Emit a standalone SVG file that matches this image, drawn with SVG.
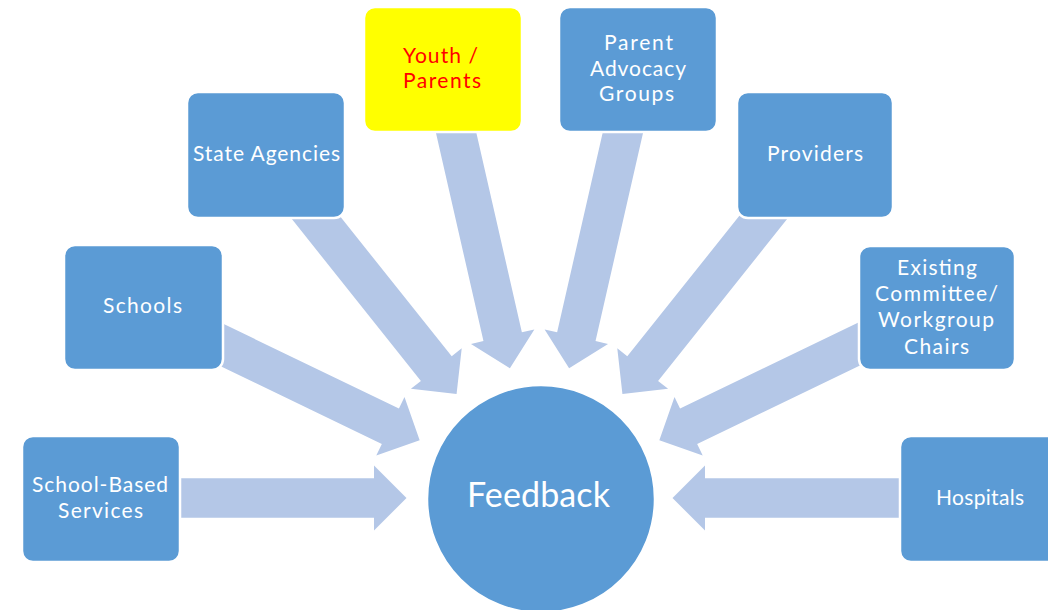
<svg xmlns="http://www.w3.org/2000/svg" xmlns:xlink="http://www.w3.org/1999/xlink" width="1048" height="610" viewBox="0 0 1048 610">
<style>
.box{fill:#5b9bd5;stroke:#ffffff;stroke-width:2.5}
.hl{fill:#ffff00;stroke:#ffffff;stroke-width:2.5}
.arr{fill:#b4c7e7}
.t{font-family:Lato,"Open Sans",sans-serif;font-size:21px;fill:#ffffff;text-anchor:middle}
.r{fill:#ff0000}
.big{font-size:34px}
</style>
<defs>
<polygon id="arrow" points="0,0 -32.5,-32.5 -32.5,-19.7 -250,-19.7 -250,19.7 -32.5,19.7 -32.5,32.5"/>
</defs>
<rect width="1048" height="610" fill="#ffffff"/>
<g id="connectors" class="arr">
<use xlink:href="#arrow" transform="translate(406.5,498) rotate(0)"/>
<use xlink:href="#arrow" transform="translate(419.67,440.29) rotate(25.714)"/>
<use xlink:href="#arrow" transform="translate(456.58,394.02) rotate(51.429)"/>
<use xlink:href="#arrow" transform="translate(509.9,368.33) rotate(77.143)"/>
<use xlink:href="#arrow" transform="translate(569.1,368.33) rotate(102.857)"/>
<use xlink:href="#arrow" transform="translate(622.42,394.02) rotate(128.571)"/>
<use xlink:href="#arrow" transform="translate(659.33,440.29) rotate(154.286)"/>
<use xlink:href="#arrow" transform="translate(672.5,498) rotate(180)"/>
</g>
<g id="feedback">
<circle cx="541" cy="499" r="114" class="box"/>
<text class="t big" x="538.5" y="507" textLength="143" lengthAdjust="spacing">Feedback</text>
</g>
<g id="school-based-services">
<rect class="box" x="22" y="436" width="158" height="126" rx="11"/>
<text class="t" x="100" y="492" textLength="136" lengthAdjust="spacing">School-Based</text>
<text class="t" x="100.5" y="518" textLength="85" lengthAdjust="spacing">Services</text>
</g>
<g id="schools">
<rect class="box" x="64" y="245" width="159" height="125" rx="11"/>
<text class="t" x="142.5" y="313" textLength="79" lengthAdjust="spacing">Schools</text>
</g>
<g id="state-agencies">
<rect class="box" x="187" y="92" width="158" height="126" rx="11"/>
<text class="t" x="266.5" y="161" textLength="147" lengthAdjust="spacing">State Agencies</text>
</g>
<g id="youth-parents">
<rect class="hl" x="364" y="7" width="158" height="125" rx="11"/>
<text class="t r" x="440.5" y="63" textLength="75" lengthAdjust="spacing">Youth /</text>
<text class="t r" x="442" y="88" textLength="78" lengthAdjust="spacing">Parents</text>
</g>
<g id="parent-advocacy-groups">
<rect class="box" x="559" y="7" width="158" height="125" rx="11"/>
<text class="t" x="638.5" y="50" textLength="69" lengthAdjust="spacing">Parent</text>
<text class="t" x="638" y="76" textLength="96" lengthAdjust="spacing">Advocacy</text>
<text class="t" x="636.5" y="101" textLength="75" lengthAdjust="spacing">Groups</text>
</g>
<g id="providers">
<rect class="box" x="737" y="92" width="156" height="126" rx="11"/>
<text class="t" x="815" y="161" textLength="96" lengthAdjust="spacing">Providers</text>
</g>
<g id="existing-committee">
<rect class="box" x="859" y="246" width="156" height="124" rx="11"/>
<text class="t" x="937" y="275" textLength="80" lengthAdjust="spacing">Existing</text>
<text class="t" x="936.5" y="301" textLength="123" lengthAdjust="spacing">Committee/</text>
<text class="t" x="936" y="327" textLength="116" lengthAdjust="spacing">Workgroup</text>
<text class="t" x="936.5" y="354" textLength="65" lengthAdjust="spacing">Chairs</text>
</g>
<g id="hospitals">
<rect class="box" x="900" y="436" width="158" height="126" rx="11"/>
<text class="t" x="980" y="505" textLength="88" lengthAdjust="spacing">Hospitals</text>
</g>
</svg>
